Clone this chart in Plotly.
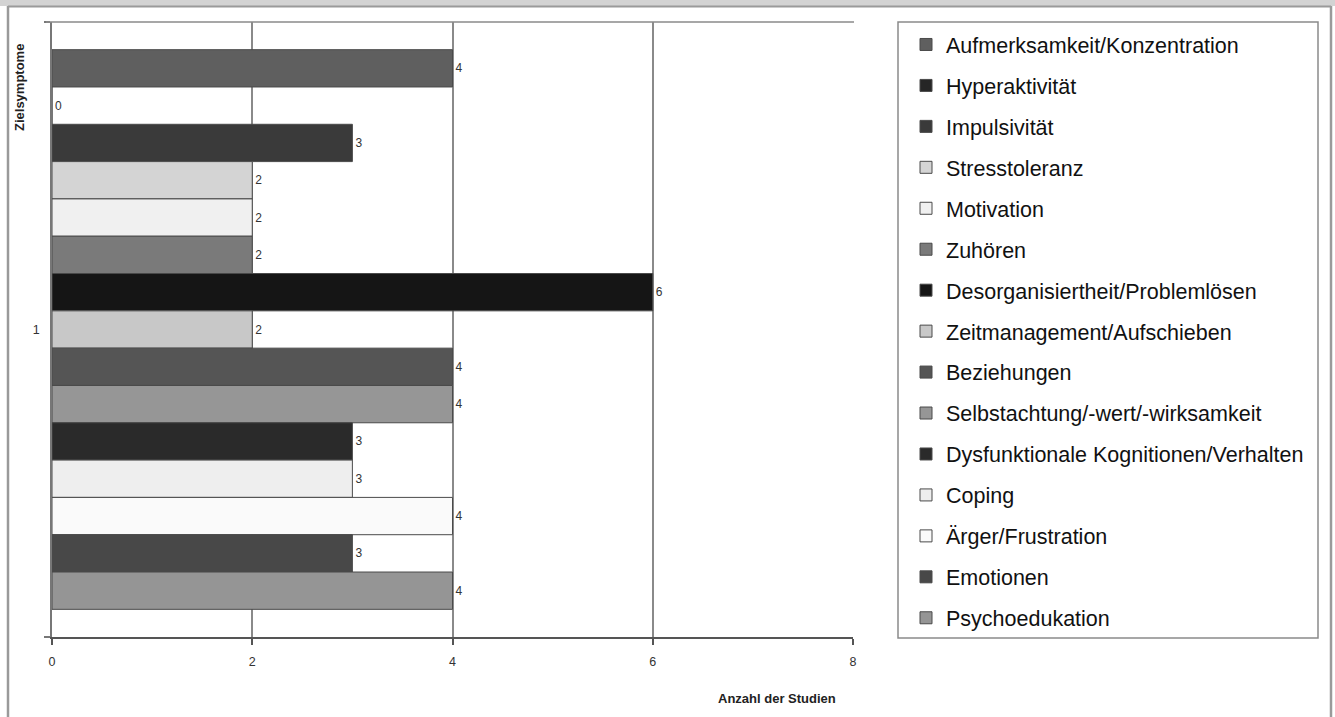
import plotly.graph_objects as go

series_names = [
    "Aufmerksamkeit/Konzentration", "Hyperaktivität", "Impulsivität", "Stresstoleranz",
    "Motivation", "Zuhören", "Desorganisiertheit/Problemlösen", "Zeitmanagement/Aufschieben",
    "Beziehungen", "Selbstachtung/-wert/-wirksamkeit", "Dysfunktionale Kognitionen/Verhalten",
    "Coping", "Ärger/Frustration", "Emotionen", "Psychoedukation",
]
series_values = [4, 0, 3, 2, 2, 2, 6, 2, 4, 4, 3, 3, 4, 3, 4]
series_colors = [
    "#5f5f5f", "#262626", "#3a3a3a", "#d4d4d4", "#f0f0f0", "#7a7a7a", "#151515", "#c8c8c8",
    "#555555", "#969696", "#2a2a2a", "#eeeeee", "#fafafa", "#484848", "#959595",
]
category = ["1"]
x_ticks = [0, 2, 4, 6, 8]

W, H = 1335, 717
L, R, T, B = 52, 853, 22, 637


def px(x):
    return (x - L) / (R - L)


def py(y):
    return (B - y) / (B - T)


FONT = "Arial, 'Liberation Sans', sans-serif"

fig = go.Figure()
for i, (name, val, col) in enumerate(zip(series_names, series_values, series_colors)):
    fig.add_trace(go.Bar(
        y=category, x=[val], name=name, orientation="h",
        marker=dict(color=col, line=dict(color="#4a4a4a", width=1)),
        text=[str(val)], textposition="outside", cliponaxis=False,
        textfont=dict(family=FONT, size=12, color="#333333"),
        legendgroup=f"g{i}",
    ))

shapes = [
    # top band and frame
    dict(type="rect", xref="paper", yref="paper", x0=px(0), x1=px(W), y0=py(0), y1=py(6),
         fillcolor="#d3d3d3", line=dict(width=0), layer="above"),
    dict(type="line", xref="paper", yref="paper", x0=px(8), x1=px(1331), y0=py(6.5), y1=py(6.5),
         line=dict(color="#9a9a9a", width=2)),
    dict(type="line", xref="paper", yref="paper", x0=px(8), x1=px(8), y0=py(6), y1=py(H),
         line=dict(color="#9a9a9a", width=2.5)),
    dict(type="line", xref="paper", yref="paper", x0=px(1331), x1=px(1331), y0=py(6), y1=py(H),
         line=dict(color="#9a9a9a", width=2.5)),
    # top line of plot area
    dict(type="line", xref="paper", yref="paper", x0=px(46), x1=px(854), y0=1, y1=1,
         line=dict(color="#8a8a8a", width=1.5)),
    # legend frame
    dict(type="rect", xref="paper", yref="paper", x0=px(898), x1=px(1318), y0=py(22), y1=py(638),
         line=dict(color="#8a8a8a", width=1.5), fillcolor="rgba(0,0,0,0)", layer="above"),
]

annotations = [
    dict(text="<b>Anzahl der Studien</b>", xref="paper", yref="paper", x=px(777), y=py(698),
         xanchor="center", yanchor="middle",
         showarrow=False, font=dict(family=FONT, size=13, color="#222222")),
    dict(text="<b>Zielsymptome</b>", xref="paper", yref="paper", x=px(20), y=py(88),
         xanchor="center", yanchor="middle",
         textangle=-90, showarrow=False, font=dict(family=FONT, size=13, color="#222222")),
]

fig.update_layout(
    width=W, height=H,
    margin=dict(l=L, r=W - R, t=T, b=H - B, pad=0),
    paper_bgcolor="white", plot_bgcolor="white",
    barmode="group", bargap=0.09, bargroupgap=0,
    showlegend=True,
    legend=dict(
        x=px(906), y=py(24), xanchor="left", yanchor="top",
        borderwidth=0, bgcolor="rgba(0,0,0,0)",
        font=dict(family=FONT, size=21.5, color="#111111"),
        tracegroupgap=10, traceorder="grouped",
    ),
    xaxis=dict(
        range=[0, 8], tickvals=x_ticks, ticktext=[str(t) for t in x_ticks],
        showgrid=True, gridcolor="#8a8a8a", gridwidth=1.5,
        showline=True, linecolor="#555555", linewidth=1.5,
        ticks="outside", ticklen=6, tickcolor="#555555", tickwidth=1.5,
        tickfont=dict(family=FONT, size=12.5, color="#333333"),
        ticklabelstandoff=6,
        zeroline=False, fixedrange=True,
    ),
    yaxis=dict(
        type="category", autorange="reversed",
        showline=True, linecolor="#777777", linewidth=1.5,
        ticks="outside", tickson="boundaries", ticklen=6, tickcolor="#777777", tickwidth=1.5,
        tickfont=dict(family=FONT, size=12.5, color="#333333"),
        ticklabelstandoff=8,
        showgrid=False, zeroline=False,
    ),
    shapes=shapes, annotations=annotations,
)

fig.write_html("out.html", config={"displayModeBar": False},
               post_script="document.body.style.margin='0';")
